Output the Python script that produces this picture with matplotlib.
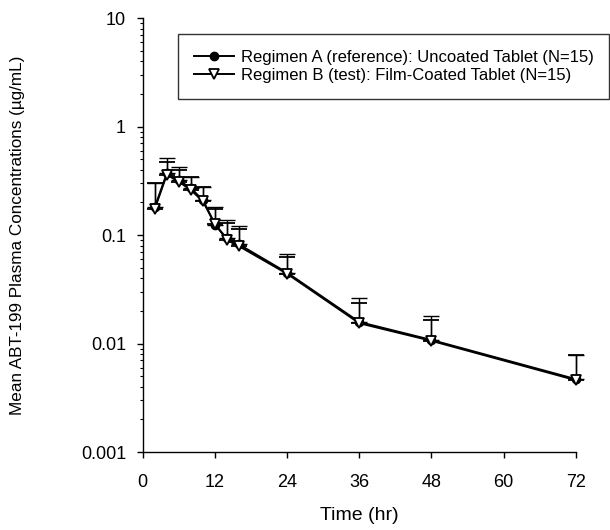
import matplotlib
matplotlib.use("Agg")
import matplotlib.pyplot as plt
import numpy as np

plt.rcParams['font.family'] = ['Liberation Sans', 'DejaVu Sans']

# sampling times (hr)
time_hr = [2, 4, 6, 8, 10, 12, 14, 16, 24, 36, 48, 72]

# Regimen A (reference): uncoated tablet, mean and SD
mean_a = [0.18, 0.37, 0.32, 0.27, 0.21, 0.125, 0.093, 0.082, 0.045, 0.0158, 0.0108, 0.0047]
sd_a = [0.12, 0.14, 0.10, 0.07, 0.07, 0.055, 0.045, 0.04, 0.022, 0.0105, 0.0072, 0.0032]

# Regimen B (test): film-coated tablet, mean and SD
mean_b = [0.175, 0.36, 0.31, 0.26, 0.205, 0.127, 0.090, 0.079, 0.044, 0.0154, 0.0106, 0.0046]
sd_b = [0.125, 0.11, 0.09, 0.08, 0.075, 0.045, 0.040, 0.035, 0.019, 0.0085, 0.006, 0.0033]

label_a = "Regimen A (reference): Uncoated Tablet (N=15)"
label_b = "Regimen B (test): Film-Coated Tablet (N=15)"

fig = plt.figure(figsize=(6.1, 5.3), dpi=100)
ax = fig.add_axes([0.234, 0.147, 0.710, 0.819])

zeros = np.zeros(len(time_hr))
ea = ax.errorbar(time_hr, mean_a, yerr=[zeros, sd_a], color='black', lw=1.4,
                 marker='o', ms=6, mfc='black', mec='black',
                 elinewidth=1.0, capsize=6, capthick=1.0, label=label_a, zorder=3)
eb = ax.errorbar(time_hr, mean_b, yerr=[zeros, sd_b], color='black', lw=1.4,
                 marker='v', ms=7, mfc='white', mec='black', mew=1.3,
                 elinewidth=1.0, capsize=6, capthick=1.0, label=label_b, zorder=4)
for cont in (ea, eb):
    for art in cont.get_children():
        art.set_clip_on(False)

ax.set_yscale('log')
ax.set_ylim(0.001, 10)
ax.set_xlim(0, 72)
ax.set_xticks([0, 12, 24, 36, 48, 60, 72])
ax.set_yticks([0.001, 0.01, 0.1, 1, 10])
ax.set_yticklabels(['0.001', '0.01', '0.1', '1', '10'])

for side in ['top', 'right']:
    ax.spines[side].set_visible(False)
for side in ['left', 'bottom']:
    ax.spines[side].set_linewidth(1.0)

ax.tick_params(axis='both', which='major', direction='out', length=4, width=1,
               labelsize=13, pad=8)
ax.tick_params(axis='x', which='major', pad=12)
ax.tick_params(axis='y', which='minor', direction='out', length=2.5, width=0.8)

ax.set_xlabel("Time (hr)", fontsize=14, labelpad=11)
ax.set_ylabel("Mean ABT-199 Plasma Concentrations (\u00b5g/mL)", fontsize=12.3, labelpad=40)

handles, labels = ax.get_legend_handles_labels()
handles = [h[0] for h in handles]
leg = ax.legend(handles, labels, loc='upper left', bbox_to_anchor=(0.292, 0.936),
                bbox_transform=fig.transFigure, fontsize=12, frameon=True,
                fancybox=False, edgecolor='black', borderpad=0.95,
                handlelength=2.4, handletextpad=0.4, labelspacing=0.2,
                borderaxespad=0)
leg.get_frame().set_linewidth(1.0)
leg.set_zorder(10)

fig.savefig("out.png", dpi=100)
